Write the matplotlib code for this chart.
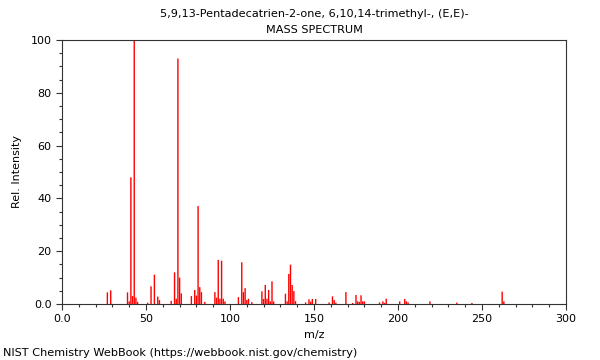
import matplotlib
matplotlib.use("Agg")
import matplotlib.pyplot as plt
from matplotlib.ticker import MultipleLocator, FuncFormatter

title = "5,9,13-Pentadecatrien-2-one, 6,10,14-trimethyl-, (E,E)-"
subtitle = "MASS SPECTRUM"
footer = "NIST Chemistry WebBook (https://webbook.nist.gov/chemistry)"

mz = [27, 29, 39, 40, 41, 42, 43, 44, 45, 51, 53, 55, 57, 58,
      65, 67, 68, 69, 70, 71,
      77, 79, 80, 81, 82, 83, 85,
      91, 92, 93, 94, 95, 96, 97,
      105, 107, 108, 109, 110, 111, 113,
      119, 120, 121, 122, 123, 124, 125, 126,
      133, 134, 135, 136, 137, 138, 139,
      145, 147, 148, 149, 151, 159, 161, 162, 163, 169, 173,
      175, 176, 177, 178, 179, 180, 189, 191, 192, 193,
      201, 204, 205, 206, 219, 235, 244, 262, 263]
intensity = [4.4, 5.2, 4.4, 1.0, 48.0, 3.0, 100.0, 2.4, 0.8, 0.5, 6.7, 11.1, 2.8, 1.5,
             1.2, 12.0, 2.0, 93.0, 10.0, 4.0,
             3.0, 5.3, 3.2, 37.1, 6.4, 4.5, 0.8,
             4.5, 2.4, 16.7, 2.0, 16.4, 2.0, 1.0,
             2.6, 15.8, 4.5, 6.0, 1.5, 2.0, 0.7,
             4.8, 1.9, 7.2, 2.0, 5.3, 1.0, 8.6, 1.0,
             3.9, 1.0, 11.4, 14.9, 7.2, 4.9, 1.1,
             0.6, 1.8, 0.9, 1.9, 1.9, 0.6, 2.9, 1.5, 0.5, 4.5, 0.4,
             3.4, 1.0, 0.8, 3.3, 1.0, 1.0, 0.6, 1.0, 0.4, 2.0,
             1.0, 1.9, 1.0, 0.6, 1.0, 0.5, 0.4, 4.7, 1.0]

fig = plt.figure(figsize=(6, 3.6), dpi=100)
ax = fig.add_axes([62/600, 56/360, 504/600, 264/360])
lc = ax.vlines(mz, 0, intensity, colors="#ff0000", linewidth=1.0)
lc.set_snap(False)
ax.set_xlim(0, 300)
ax.set_ylim(0, 100)
ax.xaxis.set_major_locator(MultipleLocator(50))
ax.xaxis.set_minor_locator(MultipleLocator(10))
ax.yaxis.set_major_locator(MultipleLocator(20))
ax.yaxis.set_minor_locator(MultipleLocator(5))
ax.xaxis.set_major_formatter(FuncFormatter(lambda v, p: "0.0" if v == 0 else f"{int(v)}"))
ax.yaxis.set_major_formatter(FuncFormatter(lambda v, p: "0.0" if v == 0 else f"{int(v)}"))
ax.tick_params(which="major", length=4, width=0.8, labelsize=8, colors="#333333", labelcolor="black")
ax.tick_params(which="minor", length=2.5, width=0.8, colors="#333333")
for s in ax.spines.values():
    s.set_color("#333333")
    s.set_linewidth(0.8)
ax.set_xlabel("m/z", fontsize=8, labelpad=4)
ax.set_ylabel("Rel. Intensity", fontsize=8, labelpad=6)
fig.text(314/600, 1 - 14/360, title, ha="center", va="center", fontsize=8.1)
fig.text(314/600, 1 - 30/360, subtitle, ha="center", va="center", fontsize=8.1)
fig.text(3/600, 1 - 353/360, footer, ha="left", va="center", fontsize=8.1)
fig.savefig("out.png", dpi=100)
